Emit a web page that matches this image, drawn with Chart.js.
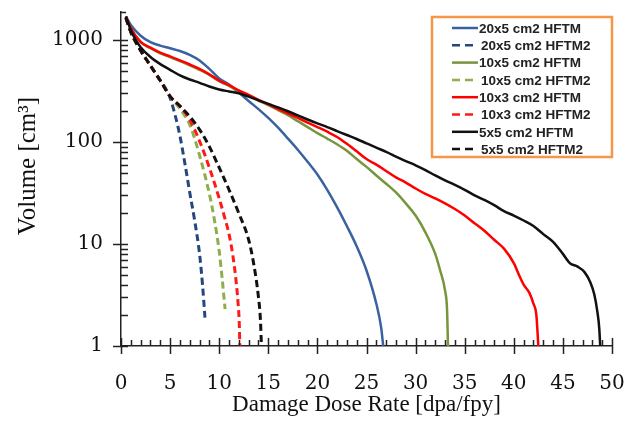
<!DOCTYPE html>
<html lang="en">
<head>
<meta charset="UTF-8">
<title>Volume vs Damage Dose Rate</title>
<script src="https://cdn.jsdelivr.net/npm/chart.js@4.4.0/dist/chart.umd.min.js"></script>
<style>
    html, body { margin: 0; padding: 0; background: #fff; }
    .chart-box { position: relative; width: 628px; height: 427px; }
</style>
</head>
<body>
<div class="chart-box"><canvas id="chart"></canvas></div>
<script>
// 20x5 cm2
const hftm20x5X = [0.5, 1, 2, 3, 4, 5, 6, 7, 8, 9, 10, 11, 12, 13, 14, 15, 16, 17, 18, 19, 20, 21, 22, 23, 24, 25, 26, 26.5, 26.7];
const hftm20x5Y = [1700, 1400, 1100, 950, 880, 830, 780, 715, 630, 520, 420, 365, 305, 252, 210, 172, 138, 108, 84, 64, 48, 34, 23, 15, 9.5, 5.5, 2.6, 1.5, 1];
const hftm2_20x5X = [0.5, 1, 2, 3, 4, 4.5, 5, 5.5, 6, 6.5, 7, 7.5, 8, 8.3, 8.55];
const hftm2_20x5Y = [1650, 1200, 790, 560, 400, 340, 270, 185, 115, 62, 32, 17, 8, 4, 1.9];

// 10x5 cm2
const hftm10x5X = [0.5, 1, 2, 3, 4, 5, 6, 7, 8, 9, 10, 11, 12, 13, 14, 15, 16, 17, 18, 19, 20, 21, 22, 23, 24, 25, 26, 27, 28, 29, 30, 31, 32, 32.5, 33, 33.2, 33.3];
const hftm10x5Y = [1700, 1300, 950, 830, 740, 680, 620, 565, 510, 455, 395, 355, 315, 285, 255, 230, 205, 183, 160, 140, 122, 108, 95, 82, 68, 57, 47, 39, 32, 25, 19, 13, 8, 5.5, 3.5, 2.3, 1];
const hftm2_10x5X = [0.5, 1, 2, 3, 4, 5, 6, 7, 7.5, 8, 8.5, 9, 9.5, 10, 10.3, 10.5, 10.6];
const hftm2_10x5Y = [1650, 1200, 790, 560, 400, 280, 212, 148, 108, 74, 49, 31, 17.5, 8.5, 4.6, 2.9, 2.3];

// 10x3 cm2
const hftm10x3X = [0.5, 1, 2, 3, 4, 5, 6, 7, 8, 9, 10, 11, 12, 13, 14, 15, 16, 17, 18, 19, 20, 21, 22, 23, 24, 25, 26, 27, 28, 29, 30, 31, 32, 33, 34, 35, 36, 37, 38, 39, 40, 40.6, 41, 41.6, 42, 42.3, 42.5];
const hftm10x3Y = [1700, 1300, 960, 840, 750, 690, 630, 575, 520, 460, 400, 360, 320, 290, 258, 234, 210, 190, 172, 155, 140, 126, 112, 96, 81, 68, 60, 52, 45, 40, 35, 31, 28, 25, 22, 19, 16, 13.5, 11, 9, 6.5, 4.8, 4, 3.3, 2.6, 2, 1];
const hftm2_10x3X = [0.5, 1, 2, 3, 4, 5, 6, 7, 8, 9, 10, 10.5, 11, 11.4, 11.7, 11.9, 12.05, 12.1];
const hftm2_10x3Y = [1650, 1200, 790, 560, 400, 280, 225, 165, 102, 56, 28, 19, 12.5, 7.6, 4.5, 2.8, 1.6, 1];

// 5x5 cm2
const hftm5x5X = [0.5, 1, 1.5, 2, 3, 4, 5, 6, 7, 8, 9, 10, 11, 12, 13, 14, 15, 16, 17, 18, 19, 20, 21, 22, 23, 24, 25, 26, 27, 28, 29, 30, 31, 32, 33, 34, 35, 36, 37, 38, 39, 40, 41, 42, 43, 44, 45, 45.7, 46.5, 47.2, 47.8, 48.2, 48.5, 48.7, 48.8];
const hftm5x5Y = [1700, 1250, 1000, 850, 680, 580, 510, 450, 410, 380, 350, 327, 313, 300, 278, 256, 236, 218, 200, 182, 166, 152, 140, 128, 117, 107, 97, 88, 80, 72, 65, 59, 53, 47, 42, 38, 34, 30, 27, 24, 21, 19, 17, 15, 12.5, 10.5, 8, 6.5, 6, 5.3, 4.2, 3.2, 2.2, 1.5, 1];
const hftm2_5x5X = [0.5, 1, 2, 3, 4, 5, 6, 7, 8, 9, 10, 11, 12, 13, 13.5, 14, 14.2, 14.3];
const hftm2_5x5Y = [1650, 1200, 790, 560, 400, 280, 225, 178, 132, 90, 56, 34, 20, 11, 6.5, 3, 1.8, 1];

const yMajorTicks = [1, 10, 100, 1000];
const xMajorTicks = [0, 5, 10, 15, 20, 25, 30, 35, 40, 45, 50];
const yTitle = 'Volume [cm³]';

function pts(xs, ys) {
    return xs.map((x, i) => ({ x: x, y: ys[i] }));
}

function series(label, xs, ys, color, dashed, order) {
    return {
        label: label,
        data: pts(xs, ys),
        borderColor: color,
        backgroundColor: color,
        borderWidth: dashed ? 3 : 2.5,
        borderDash: dashed ? [7, 4] : [],
        pointRadius: 0,
        showLine: true,
        cubicInterpolationMode: 'monotone',
        order: order
    };
}

// tick marks: majors cross the axis, minors point inside
const axisTicks = {
    id: 'axisTicks',
    afterDraw(chart) {
        const { ctx, chartArea, scales: { x, y } } = chart;
        const left = chartArea.left, bottom = chartArea.bottom;
        ctx.save();
        ctx.strokeStyle = '#222';
        ctx.lineWidth = 1.5;
        ctx.beginPath();
        yMajorTicks.forEach(v => {
            const py = Math.round(y.getPixelForValue(v)) + 0.5;
            ctx.moveTo(left - 8, py); ctx.lineTo(left + 7, py);
            for (let k = 2; k <= 9; k++) {
                if (v * k > y.max) break;
                const my = Math.round(y.getPixelForValue(v * k)) + 0.5;
                ctx.moveTo(left, my); ctx.lineTo(left + 7, my);
            }
        });
        // little cap at the top of the y axis
        ctx.moveTo(left, chartArea.top + 0.5); ctx.lineTo(left + 5, chartArea.top + 0.5);
        for (let v = x.min; v <= x.max; v++) {
            const px = Math.round(x.getPixelForValue(v)) + 0.5;
            if (v % 5 === 0) {
                ctx.moveTo(px, bottom - 8); ctx.lineTo(px, bottom + 8);
            } else {
                ctx.moveTo(px, bottom); ctx.lineTo(px, bottom - 6);
            }
        }
        ctx.stroke();

        // y title sits a bit above the axis middle in the original
        ctx.fillStyle = '#111';
        ctx.font = '25px "Liberation Serif", serif';
        ctx.textAlign = 'center';
        ctx.textBaseline = 'middle';
        ctx.translate(28, (chartArea.top + chartArea.bottom) / 2 - 13);
        ctx.rotate(-Math.PI / 2);
        ctx.fillText(yTitle, 0, 0);
        ctx.restore();
    }
};

// boxed legend in the top right corner
const boxLegend = {
    id: 'boxLegend',
    afterDraw(chart) {
        const ctx = chart.ctx;
        const right = chart.chartArea.right;
        const boxL = 432, boxT = 17, boxR = right, boxB = 157;
        ctx.save();
        ctx.strokeStyle = '#F79646';
        ctx.lineWidth = 2.5;
        ctx.strokeRect(boxL, boxT, boxR - boxL, boxB - boxT);
        ctx.font = 'bold 13.5px "Liberation Sans", Arial, sans-serif';
        ctx.textBaseline = 'middle';
        ctx.fillStyle = '#222';
        chart.data.datasets.forEach((ds, i) => {
            const ly = 28 + i * 17.3;
            ctx.strokeStyle = ds.borderColor;
            ctx.lineWidth = 2.5;
            ctx.setLineDash(ds.borderDash.length ? [8, 5] : []);
            ctx.beginPath();
            ctx.moveTo(452, ly); ctx.lineTo(478, ly);
            ctx.stroke();
            ctx.setLineDash([]);
            ctx.fillText(ds.label, ds.borderDash.length ? 481 : 479, ly + 1);
        });
        ctx.restore();
    }
};

const ctx = document.getElementById('chart').getContext('2d');
const chart = new Chart(ctx, {
    type: 'scatter',
    data: {
        datasets: [
            series('20x5 cm2 HFTM', hftm20x5X, hftm20x5Y, '#3A62A0', false, 3),
            series('20x5 cm2 HFTM2', hftm2_20x5X, hftm2_20x5Y, '#24477C', true, 3),
            series('10x5 cm2 HFTM', hftm10x5X, hftm10x5Y, '#77963C', false, 2),
            series('10x5 cm2 HFTM2', hftm2_10x5X, hftm2_10x5Y, '#8DAE4C', true, 2),
            series('10x3 cm2 HFTM', hftm10x3X, hftm10x3Y, '#FF0000', false, 1),
            series('10x3 cm2 HFTM2', hftm2_10x3X, hftm2_10x3Y, '#FF1A1A', true, 1),
            series('5x5 cm2 HFTM', hftm5x5X, hftm5x5Y, '#111111', false, 0),
            series('5x5 cm2 HFTM2', hftm2_5x5X, hftm2_5x5Y, '#111111', true, 0)
        ]
    },
    options: {
        responsive: true,
        maintainAspectRatio: false,
        animation: false,
        layout: { padding: { top: 12, right: 16, bottom: 0, left: 0 } },
        plugins: {
            legend: { display: false },
            tooltip: { enabled: false }
        },
        scales: {
            x: {
                type: 'linear',
                min: 0,
                max: 50,
                afterBuildTicks: scale => { scale.ticks = xMajorTicks.map(v => ({ value: v })); },
                afterFit: scale => {
                    scale.height = 81;
                    scale.paddingLeft = 0;
                    scale.paddingRight = 0;
                },
                grid: { display: false, drawTicks: false },
                border: { display: true, color: '#222', width: 1.5 },
                ticks: {
                    color: '#111',
                    padding: 26,
                    maxRotation: 0,
                    font: { family: '"DejaVu Serif", serif', size: 20 }
                },
                title: {
                    display: true,
                    text: 'Damage Dose Rate [dpa/fpy]',
                    color: '#111',
                    padding: { top: 0, bottom: 8 },
                    font: { family: '"Liberation Serif", serif', size: 23 }
                }
            },
            y: {
                type: 'logarithmic',
                min: 1,
                max: 1880,
                afterBuildTicks: scale => { scale.ticks = yMajorTicks.map(v => ({ value: v })); },
                afterFit: scale => {
                    scale.width = 121;
                    scale.paddingTop = 0;
                    scale.paddingBottom = 0;
                },
                grid: { display: false, drawTicks: false },
                border: { display: true, color: '#222', width: 1.5 },
                ticks: {
                    color: '#111',
                    padding: 18,
                    callback: v => String(v),
                    font: { family: '"DejaVu Serif", serif', size: 20 }
                },
                title: { display: false }
            }
        }
    },
    plugins: [axisTicks, boxLegend]
});
</script>
</body>
</html>
